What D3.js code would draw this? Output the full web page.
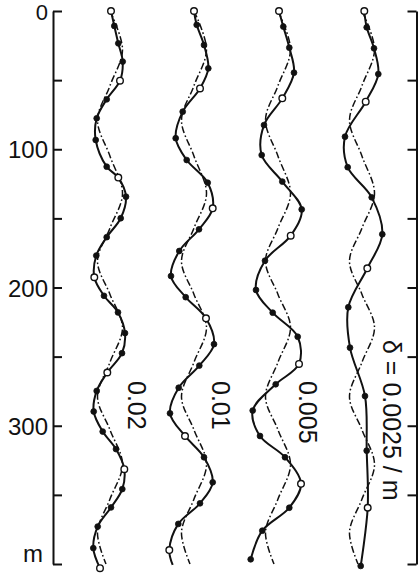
<!DOCTYPE html>
<html>
<head>
<meta charset="utf-8">
<script src="https://cdn.jsdelivr.net/npm/d3@7"></script>
<style>
  html, body { margin: 0; padding: 0; background: #fff; }
  svg { display: block; }
  text { font-family: "Liberation Sans", Arial, sans-serif; fill: #111; }
</style>
</head>
<body>
<svg id="chart" width="418" height="574"></svg>
<script>
// Damping coefficient of each profile column
const columns = ["0.02", "0.01", "0.005", "0.0025"];
const columnLabels = ["0.02", "0.01", "0.005", "δ = 0.0025 / m"];

// Depth axis (m)
const depthTicks = [0, 50, 100, 150, 200, 250, 300, 350, 400];
const depthLabelTicks = [0, 100, 200, 300];
const depthUnit = "m";

// Computed profiles: [depth m, lateral displacement, marker ("o" open, "f" filled, "" none)]
const profile002 = [
  [0, 1, "o"], [10.8, 4.3, "f"], [23.4, 8.3, "f"], [36.6, 12.7, "f"], [50.4, 10, "o"],
  [63.9, -3.3, "f"], [77.6, -13.3, "f"], [93.3, -14.3, "f"], [112.6, -3.3, "f"], [120.5, 8.3, "o"],
  [134.3, 16, "f"], [149.9, 10.7, "f"], [163.6, -3.3, "f"], [176.9, -13.7, "f"], [192.6, -15.7, "o"],
  [206, -6, "f"], [218, 8, "f"], [233, 15, "f"], [247.5, 12, "f"], [261.5, -2.7, "o"],
  [274.8, -13.3, "f"], [289.7, -16.3, "f"], [304.2, -7.3, "f"], [316.9, 6, "f"], [331.4, 14.3, "o"],
  [345.8, 12.3, "f"], [359.1, 1, "f"], [372.9, -12.3, "f"], [388.5, -16.7, "f"], [403, -10, "o"]
];
const profile001 = [
  [0, 0, "o"], [10, 2.7, "f"], [24.6, 10, "f"], [41.5, 14.3, "f"], [56, 6, "o"],
  [72.8, -11.3, "f"], [92, -18.3, "f"], [107.8, -7.3, "f"], [124.2, 13.7, "f"], [142.7, 18.7, "o"],
  [157.9, 5, "f"], [173.6, -14.7, "f"], [191.7, -23, "f"], [207, -8.3, "f"], [222.3, 12, "o"],
  [241, 20, "f"], [256.5, 5.3, "f"], [272.5, -15.3, "f"], [291, -24, "f"], [307.4, -9, "o"],
  [322.8, 10, "f"], [340.9, 18.7, "f"], [356.1, 6, "f"], [371, -15.7, "f"], [389.9, -24.7, "o"],
  [400.7, -21.3, ""]
];
const profile0005 = [
  [0, 1, "o"], [11.3, 5.3, "f"], [26.5, 11.3, "f"], [44.6, 16, "f"], [63.2, 4.3, "o"],
  [82.5, -14, "f"], [104.2, -16.3, "f"], [123.4, 4.3, "f"], [143.5, 23.7, "f"], [162.5, 12.7, "o"],
  [180.6, -13, "f"], [201.8, -22, "f"], [218.2, -5.3, "f"], [235.6, 19.7, "f"], [255.3, 21, "o"],
  [270, -2.3, "f"], [289, -25.3, "f"], [307.4, -18, "f"], [322.8, 7, "f"], [342, 23, "o"],
  [359.3, 11.3, "f"], [375.9, -15.7, "f"], [396.6, -27.3, "f"]
];
const profile00025 = [
  [0, 2.3, "o"], [11.8, 4.7, "f"], [27, 12, "f"], [45.6, 16.3, "f"], [65.6, 3.7, "o"],
  [90.9, -17, "f"], [113, -14.3, "f"], [134.8, 9.7, "f"], [161.5, 20.3, "f"], [186.1, 5.3, "o"],
  [214.3, -13.7, "f"], [243.5, -12, "f"], [278.5, 3, "f"], [318, 4.7, "f"], [359.3, 5.7, "o"],
  [401.4, -1.3, "f"]
];
const profiles = [profile002, profile001, profile0005, profile00025];

// Undamped reference profile (dash-dot), same in every column: [depth m, displacement]
const reference = [
  [0, 0], [28, 12.5], [54, 0], [79, -12.5], [105, 0], [132, 12.5], [157, 0], [181, -12.5],
  [205, 0], [229, 12.5], [254, 0], [279, -12.5], [303, 0], [328, 12.5], [353, 0], [377, -12.5],
  [400, -4]
];

const svg = d3.select("#chart");

const y = d3.scaleLinear().domain([0, 400]).range([11, 564]);
const colX = d3.scalePoint().domain(columns).range([110, 362]);
const dx = d3.scaleLinear().domain([-30, 30]).range([-30, 30]);

// Left depth axis
const leftAxis = svg.append("g")
  .attr("transform", "translate(53,0)")
  .call(d3.axisRight(y).tickValues(depthTicks).tickSize(9).tickSizeOuter(0).tickFormat(""));
leftAxis.selectAll("path, line").attr("stroke", "#111").attr("stroke-width", 2);

// Tick labels; the top one sits slightly lower and smaller so it stays inside the frame
svg.append("g").selectAll("text")
  .data(depthLabelTicks)
  .join("text")
  .attr("x", 48)
  .attr("y", d => d === 0 ? 20 : y(d))
  .attr("dy", d => d === 0 ? 0 : "0.38em")
  .attr("text-anchor", "end")
  .attr("font-size", d => d === 0 ? 22 : 24)
  .text(d => d);

svg.append("text")
  .attr("x", 43)
  .attr("y", y(400) - 2)
  .attr("text-anchor", "end")
  .attr("font-size", 24)
  .text(depthUnit);

// Right depth axis (ticks pointing inward)
const rightAxis = svg.append("g")
  .attr("transform", "translate(416.5,0)")
  .call(d3.axisLeft(y).tickValues(depthTicks).tickSize(9).tickSizeOuter(0).tickFormat(""));
rightAxis.selectAll("path, line").attr("stroke", "#111").attr("stroke-width", 2);

const refLine = d3.line().curve(d3.curveCatmullRom.alpha(0.5));
const solidLine = d3.line().curve(d3.curveCatmullRom.alpha(0.5));

columns.forEach((c, i) => {
  const cx = colX(c);
  const g = svg.append("g");

  g.append("path")
    .attr("d", refLine(reference.map(d => [cx + dx(d[1]), y(d[0])])))
    .attr("fill", "none")
    .attr("stroke", "#111")
    .attr("stroke-width", 1.5)
    .attr("stroke-dasharray", "7,2.5,1.6,2.5");

  const pts = profiles[i];
  g.append("path")
    .attr("d", solidLine(pts.map(d => [cx + dx(d[1]), y(d[0])])))
    .attr("fill", "none")
    .attr("stroke", "#111")
    .attr("stroke-width", 2);

  g.selectAll("circle")
    .data(pts.filter(d => d[2] !== ""))
    .join("circle")
    .attr("cx", d => cx + dx(d[1]))
    .attr("cy", d => y(d[0]))
    .attr("r", d => d[2] === "o" ? 3.3 : 2.9)
    .attr("fill", d => d[2] === "o" ? "#fff" : "#111")
    .attr("stroke", "#111")
    .attr("stroke-width", d => d[2] === "o" ? 1.4 : 0.8);
});

// Rotated column labels, reading downward
const labelPos = [[128, 381], [212, 381], [299, 381], [383, 340]];
svg.append("g").selectAll("text")
  .data(columnLabels)
  .join("text")
  .attr("transform", (d, i) => `translate(${labelPos[i][0]},${labelPos[i][1]}) rotate(90)`)
  .attr("font-size", 25)
  .text(d => d);
</script>
</body>
</html>
